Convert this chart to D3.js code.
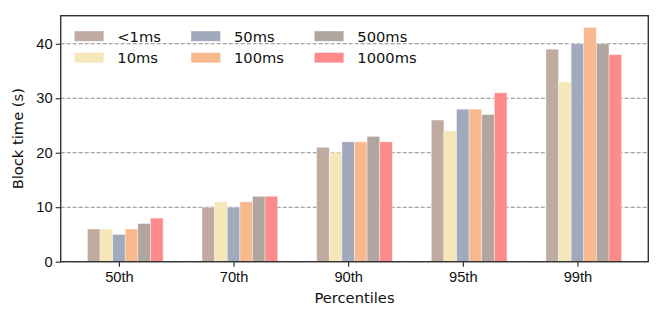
<!DOCTYPE html>
<html>
<head>
<meta charset="utf-8">
<script src="https://cdn.jsdelivr.net/npm/d3@7"></script>
<style>
  body { margin: 0; background: #fff; }
  svg { font-family: 'DejaVu Sans', sans-serif; }
</style>
</head>
<body>
<script>
const percentiles = ['50th', '70th', '90th', '95th', '99th']
const seriesNames = ['<1ms', '10ms', '50ms', '100ms', '500ms', '1000ms']
const seriesColors = ['#bfaba0', '#f5e7b9', '#a1a9bd', '#f9b98f', '#b0a59f', '#fe8b8b']

const lt1ms = [6, 10, 21, 26, 39]
const ms10 = [6, 11, 20, 24, 33]
const ms50 = [5, 10, 22, 28, 40]
const ms100 = [6, 11, 22, 28, 43]
const ms500 = [7, 12, 23, 27, 40]
const ms1000 = [8, 12, 22, 31, 38]
const seriesValues = [lt1ms, ms10, ms50, ms100, ms500, ms1000]

const yTicks = [0, 10, 20, 30, 40]

const width = 664
const height = 318
const margin = { top: 15.7, right: 664 - 648.3, bottom: 318 - 261.7, left: 60.7 }
const barWidth = 0.11
const fontSize = '14.7px'

const svg = d3.select('body').append('svg')
  .attr('width', width)
  .attr('height', height)

const innerW = width - margin.left - margin.right
const innerH = height - margin.top - margin.bottom

const lo = -2.5 * barWidth
const hi = percentiles.length - 1 + 3.5 * barWidth
const pad = (hi - lo) * 0.05
const x = d3.scaleLinear().domain([lo - pad, hi + pad]).range([0, innerW])
const yMax = d3.max(seriesValues.flat()) * 1.05
const y = d3.scaleLinear().domain([0, yMax]).range([innerH, 0])

const g = svg.append('g').attr('transform', 'translate(' + margin.left + ',' + margin.top + ')')

// grid
g.append('g')
  .selectAll('line')
  .data(yTicks)
  .enter()
  .append('line')
  .attr('x1', 0)
  .attr('x2', innerW)
  .attr('y1', d => y(d))
  .attr('y2', d => y(d))
  .attr('stroke', '#8a8a8a')
  .attr('stroke-width', 1.1)
  .attr('stroke-dasharray', '4,2')

// bars
const rows = []
seriesValues.forEach((vals, s) => {
  vals.forEach((v, i) => rows.push({ s, i, v }))
})

g.append('g')
  .selectAll('rect')
  .data(rows)
  .enter()
  .append('rect')
  .attr('x', d => x(d.i + (d.s - 2.5) * barWidth))
  .attr('width', d => x(barWidth) - x(0))
  .attr('y', d => y(d.v))
  .attr('height', d => y(0) - y(d.v))
  .attr('fill', d => seriesColors[d.s])
  .attr('stroke', 'rgba(255,255,255,0.45)')
  .attr('stroke-width', 0.8)

// axes
const xAxis = d3.axisBottom(x)
  .tickValues(d3.range(percentiles.length))
  .tickFormat(i => percentiles[i])
  .tickSize(5)
  .tickSizeOuter(0)
const yAxis = d3.axisLeft(y)
  .tickValues(yTicks)
  .tickSize(5)
  .tickSizeOuter(0)

const gx = g.append('g').attr('transform', 'translate(0,' + innerH + ')').call(xAxis)
const gy = g.append('g').call(yAxis)

for (const ax of [gx, gy]) {
  ax.select('.domain').remove()
  ax.selectAll('.tick line').attr('stroke', '#222').attr('stroke-width', 1.1)
  ax.selectAll('.tick text').attr('fill', '#111').style('font-size', fontSize)
}
gx.selectAll('.tick text').attr('dy', '1em').attr('y', 6)
gy.selectAll('.tick text').attr('x', -8)

// frame
g.append('rect')
  .attr('width', innerW)
  .attr('height', innerH)
  .attr('fill', 'none')
  .attr('stroke', '#333')
  .attr('stroke-width', 1.4)

// axis labels
svg.append('text')
  .attr('x', margin.left + innerW / 2)
  .attr('y', 303)
  .attr('text-anchor', 'middle')
  .style('font-size', fontSize)
  .attr('fill', '#111')
  .text('Percentiles')

svg.append('text')
  .attr('transform', 'translate(23,' + (margin.top + innerH / 2) + ') rotate(-90)')
  .attr('text-anchor', 'middle')
  .style('font-size', fontSize)
  .attr('fill', '#111')
  .text('Block time (s)')

// legend (3 columns, 2 rows, column-major)
const legend = svg.append('g')
const colX = [74.3, 191, 314.3]
const rowY = [31, 52.5]
seriesNames.forEach((name, k) => {
  const cx = colX[Math.floor(k / 2)]
  const cy = rowY[k % 2]
  legend.append('rect')
    .attr('x', cx)
    .attr('y', cy)
    .attr('width', 29.5)
    .attr('height', 10.3)
    .attr('fill', seriesColors[k])
    .attr('stroke', 'rgba(255,255,255,0.45)')
    .attr('stroke-width', 0.8)
  legend.append('text')
    .attr('x', cx + 43)
    .attr('y', cy + 10.5)
    .style('font-size', fontSize)
    .attr('fill', '#111')
    .text(name)
})
</script>
</body>
</html>
